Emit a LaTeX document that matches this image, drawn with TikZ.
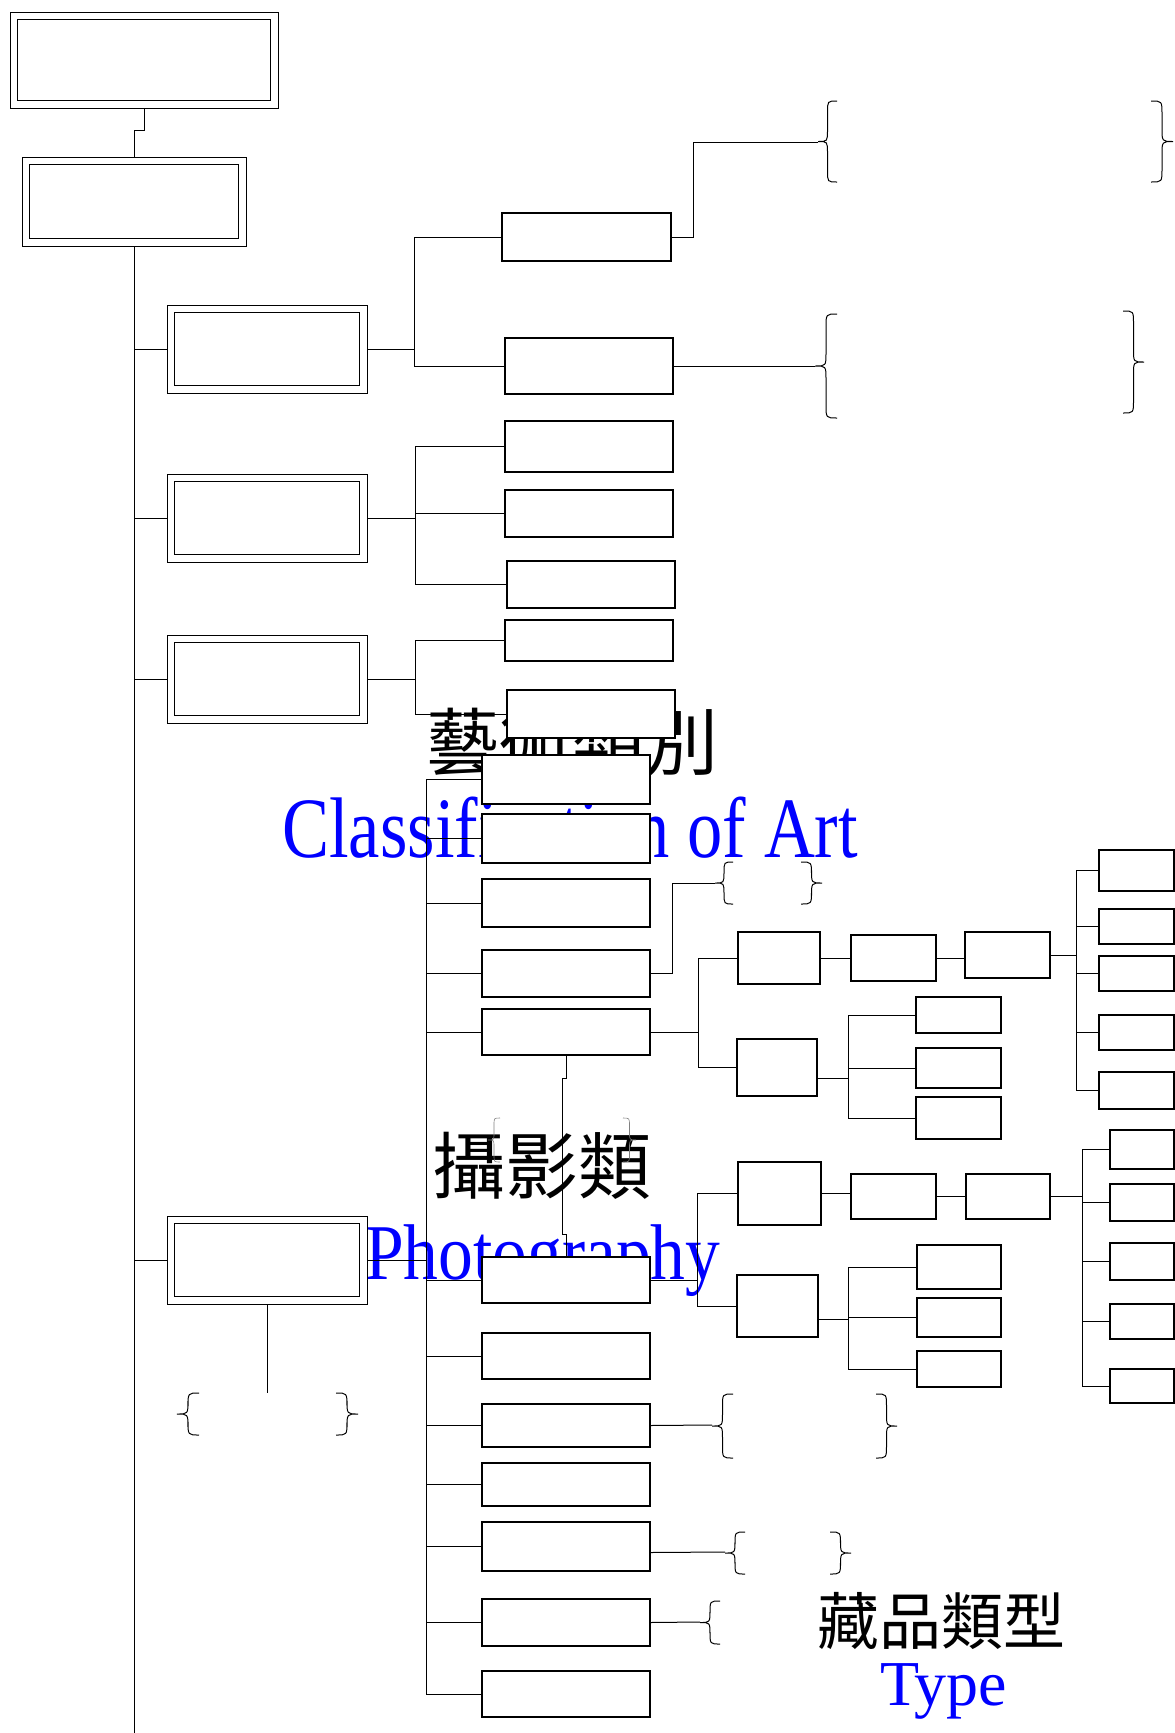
\documentclass[tikz,border=0pt]{standalone}
\usepackage{graphicx}
\usepackage{fontspec}
\setmainfont{Liberation Serif}
\newfontfamily\cjk{Noto Sans CJK TC}
\pgfdeclarelayer{bgl}
\pgfdeclarelayer{txt}
\pgfdeclarelayer{lines}
\pgfsetlayers{bgl,txt,lines,main}
\tikzset{
  box/.style={draw, fill=white, line width=1.1pt, inner sep=0pt, outer sep=0pt},
  dbox/.style={draw, fill=white, line width=1pt, double, double distance=6.5pt, inner sep=0pt, outer sep=3.75pt},
  conn/.style={line width=1pt},
  brc/.style={line width=1pt},
  lbl/.style={inner sep=0pt}
}
\newcommand\bx[5]{\node[box, minimum width={#4-#2}, minimum height={#5-#3}] (#1) at ({(#2+#4)/2},{(#3+#5)/2}) {};}
\newcommand\dbx[5]{\node[dbox, minimum width={#4-#2-7.5}, minimum height={#5-#3-7.5}] (#1) at ({(#2+#4)/2},{(#3+#5)/2}) {};}
% brace: tip x, back x, top y, bottom y
\newcommand\Brc[5][]{%
  \pgfmathsetmacro\bxm{(#2+#3)/2}%
  \pgfmathsetmacro\bym{(#4+#5)/2}%
  \pgfmathsetmacro\brr{abs(#3-#2)*0.6}%
  \draw[brc,#1] (#3,#4) .. controls (\bxm,#4) .. (\bxm,#4+\brr) -- (\bxm,\bym-\brr) .. controls (\bxm,\bym) .. (#2,\bym) .. controls (\bxm,\bym) .. (\bxm,\bym+\brr) -- (\bxm,#5-\brr) .. controls (\bxm,#5) .. (#3,#5);}
\begin{document}
\begin{tikzpicture}[x=1pt,y=-1pt]
\useasboundingbox (0,0) rectangle (1175,1733);
\begin{pgfonlayer}{bgl}
\fill[white] (0,0) rectangle (1175,1733);
\end{pgfonlayer}
% ---------- boxes ----------
\dbx{A}{10}{12}{278}{108}
\dbx{B}{22}{157}{246}{246}
\dbx{C1}{167}{305}{367}{393}
\dbx{C2}{167}{474}{367}{562}
\dbx{C3}{167}{635}{367}{723}
\dbx{C4}{167}{1216}{367}{1304}
\bx{D1}{502}{213}{671}{261}
\bx{D2}{505}{338}{673}{394}
\bx{E1}{505}{421}{673}{472}
\bx{E2}{505}{490}{673}{537}
\bx{E3}{507}{561}{675}{608}
\bx{F1}{505}{620}{673}{661}
\bx{F2}{507}{690}{675}{738}
\bx{G1}{482}{755}{650}{804}
\bx{G2}{482}{814}{650}{863}
\bx{G3}{482}{879}{650}{927}
\bx{G4}{482}{950}{650}{997}
\bx{G5}{482}{1009}{650}{1055}
\bx{G6}{482}{1257}{650}{1303}
\bx{G7}{482}{1333}{650}{1379}
\bx{G8}{482}{1404}{650}{1447}
\bx{G9}{482}{1463}{650}{1506}
\bx{G10}{482}{1522}{650}{1571}
\bx{G11}{482}{1599}{650}{1646}
\bx{G12}{482}{1671}{650}{1717}
\bx{H1}{738}{932}{820}{984}
\bx{H2}{737}{1039}{817}{1096}
\bx{N1}{851}{935}{936}{981}
\bx{O1}{965}{932}{1050}{978}
\bx{P1}{1099}{850}{1174}{891}
\bx{P2}{1099}{909}{1174}{944}
\bx{P3}{1099}{956}{1174}{991}
\bx{P4}{1099}{1015}{1174}{1050}
\bx{P5}{1099}{1072}{1174}{1109}
\bx{Q1}{916}{997}{1001}{1033}
\bx{Q2}{916}{1048}{1001}{1088}
\bx{Q3}{916}{1097}{1001}{1139}
\bx{I1}{738}{1162}{821}{1225}
\bx{I2}{737}{1275}{818}{1337}
\bx{J1}{851}{1174}{936}{1219}
\bx{K1}{966}{1174}{1050}{1219}
\bx{L1}{1110}{1130}{1174}{1169}
\bx{L2}{1110}{1184}{1174}{1221}
\bx{L3}{1110}{1243}{1174}{1280}
\bx{L4}{1110}{1304}{1174}{1339}
\bx{L5}{1110}{1369}{1174}{1403}
\bx{M1}{917}{1245}{1001}{1289}
\bx{M2}{917}{1298}{1001}{1337}
\bx{M3}{917}{1351}{1001}{1387}
% ---------- junction coordinates ----------
\coordinate (mainend) at (134,1733);
\coordinate (c1j) at (414,0);
\coordinate (c2j) at (415,0);
\coordinate (c3j) at (415,0);
\coordinate (gj) at (426,0);
\coordinate (hj) at (698,0);
\coordinate (ij) at (697,0);
\coordinate (pj) at (1076,0);
\coordinate (qj) at (848,0);
\coordinate (lj) at (1082,0);
\coordinate (mj) at (848,0);
\coordinate (br1) at (818,142);
\coordinate (br2) at (815,366);
\coordinate (br3) at (715,883);
\coordinate (br4) at (267,1393);
\coordinate (br6) at (712,1425);
\coordinate (br7) at (725,1552);
\coordinate (br8) at (700,1622);
% ---------- connectors ----------
\begin{pgfonlayer}{lines}
\draw[conn] (A.south) -- ++(0,22) -| (B.north);
\draw[conn] (B.south) -- (mainend);
\foreach \c in {C1,C2,C3,C4}{\draw[conn] (\c.west) -- (\c.west -| mainend);}
% C1
\draw[conn] (C1.east) -- (C1.east -| c1j);
\draw[conn] (D1.west) -- (D1.west -| c1j) -- (D2.west -| c1j) -- (D2.west);
\draw[conn] (D1.east) -- ++(22,0) |- (br1);
\draw[conn] (D2.east) -- (br2);
% C2
\draw[conn] (C2.east) -- (C2.east -| c2j);
\draw[conn] (E1.west) -- (E1.west -| c2j) -- (E3.west -| c2j) -- (E3.west);
\draw[conn] (E2.west) -- (E2.west -| c2j);
% C3
\draw[conn] (C3.east) -- (C3.east -| c3j);
\draw[conn] (F1.west) -- (F1.west -| c3j) -- (F2.west -| c3j) -- (F2.west);
% C4
\draw[conn] (C4.east) -- (C4.east -| gj);
\draw[conn] (C4.south) -- (br4);
\draw[conn] (G1.west -| gj) -- (G12.west -| gj);
\foreach \g in {G1,G2,G3,G4,G5,G6,G7,G8,G9,G10,G11,G12}{\draw[conn] (\g.west) -- (\g.west -| gj);}
\draw[conn] (G4.east) -- ++(22,0) |- (br3);
\draw[conn] (G8.east) -- (br6);
\draw[conn] ([yshift=-6pt]G10.east) -- (br7);
\draw[conn] (G11.east) -- (br8);
% G5 subtree
\draw[conn] (G5.east) -- (G5.east -| hj);
\draw[conn] (H1.west) -- (H1.west -| hj) -- (H2.west -| hj) -- (H2.west);
\draw[conn] (H1.east) -- (N1.west);
\draw[conn] (N1.east) -- (N1.east -| O1.west);
\draw[conn] (O1.east) -- (O1.east -| pj);
\draw[conn] (P1.west -| pj) -- (P5.west -| pj);
\foreach \p in {P1,P2,P3,P4,P5}{\draw[conn] (\p.west) -- (\p.west -| pj);}
\draw[conn] ([yshift=-11pt]H2.east) -- ([yshift=-11pt]H2.east -| qj);
\draw[conn] (Q1.west -| qj) -- (Q3.west -| qj);
\foreach \q in {Q1,Q2,Q3}{\draw[conn] (\q.west) -- (\q.west -| qj);}
% G5 to G6
\draw[conn] (G5.south) -- ++(0,23) -- ++(-4,0) -- ++(0,156) -- ++(4,0) -- (G6.north);
% G6 subtree
\draw[conn] (G6.east) -- (G6.east -| ij);
\draw[conn] (I1.west) -- (I1.west -| ij) -- (I2.west -| ij) -- (I2.west);
\draw[conn] (I1.east) -- (I1.east -| J1.west);
\draw[conn] (J1.east) -- (K1.west);
\draw[conn] (K1.east) -- (K1.east -| lj);
\draw[conn] (L1.west -| lj) -- (L5.west -| lj);
\foreach \l in {L1,L2,L3,L4,L5}{\draw[conn] (\l.west) -- (\l.west -| lj);}
\draw[conn] ([yshift=-13pt]I2.east) -- ([yshift=-13pt]I2.east -| mj);
\draw[conn] (M1.west -| mj) -- (M3.west -| mj);
\foreach \m in {M1,M2,M3}{\draw[conn] (\m.west) -- (\m.west -| mj);}
% braces
\Brc{818}{837}{101}{182}
\Brc{1173}{1151}{101}{182}
\Brc{815}{837}{314}{418}
\Brc{1144}{1123}{311}{413}
\Brc{715}{733}{862}{904}
\Brc{822}{801}{862}{904}
\Brc{177}{199}{1393}{1435}
\Brc{358}{336}{1393}{1435}
\Brc[gray,line width=0.6pt]{488}{500}{1118}{1162}
\Brc[gray,line width=0.6pt]{636}{623}{1118}{1162}
\Brc{712}{733}{1394}{1458}
\Brc{897}{876}{1394}{1458}
\Brc{725}{745}{1532}{1574}
\Brc{851}{830}{1532}{1574}
\Brc{700}{720}{1601}{1644}
\end{pgfonlayer}
% ---------- texts ----------
\begin{pgfonlayer}{txt}
\node[lbl, anchor=base] (tArtZh) at (572,769) {\cjk\fontsize{73}{73}\selectfont 藝術類別};
\node[lbl, anchor=base west, text=blue] (tArtEn) at (282,857) {\fontsize{86}{86}\selectfont\scalebox{0.82}[1]{Classification of Art}};
\node[lbl, anchor=base] (tPhZh) at (542,1193) {\cjk\fontsize{73}{73}\selectfont 攝影類};
\node[lbl, anchor=base west, text=blue] (tPhEn) at (365,1279) {\fontsize{79}{79}\selectfont\scalebox{0.88}[1]{Photography}};
\node[lbl, anchor=base] (tTyZh) at (941,1644) {\cjk\fontsize{62}{62}\selectfont 藏品類型};
\node[lbl, anchor=base west, text=blue] (tTyEn) at (880,1705) {\fontsize{64}{64}\selectfont Type};
\end{pgfonlayer}
\end{tikzpicture}
\end{document}
